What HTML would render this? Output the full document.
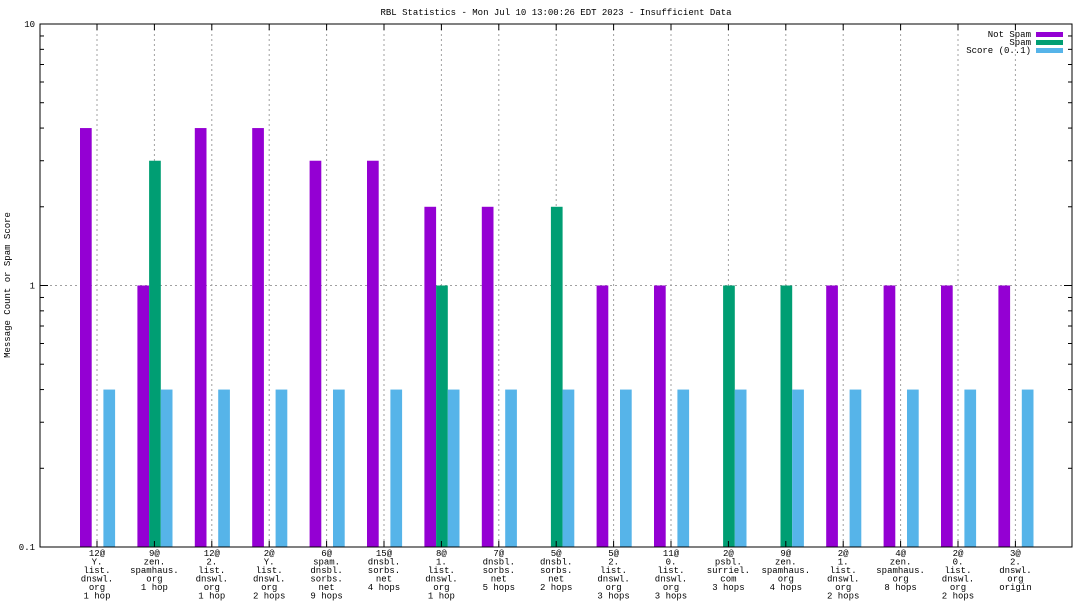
<!DOCTYPE html>
<html><head><meta charset="utf-8"><style>
body{margin:0;background:#fff}
svg{display:block;font-family:"Liberation Mono","DejaVu Sans Mono",monospace;font-size:9px}
</style></head><body>
<svg id="c" width="1088" height="612">
<text x="556" y="15" text-anchor="middle">RBL Statistics - Mon Jul 10 13:00:26 EDT 2023 - Insufficient Data</text>
<text transform="translate(10,285) rotate(-90)" text-anchor="middle">Message Count or Spam Score</text>
<g id="legend">
<text x="1031" y="37" text-anchor="end">Not Spam</text>
<rect x="1036" y="32" width="27" height="5" fill="#9400d3"/>
<text x="1031" y="45" text-anchor="end">Spam</text>
<rect x="1036" y="40" width="27" height="5" fill="#009e73"/>
<text x="1031" y="53" text-anchor="end">Score (0..1)</text>
<rect x="1036" y="48" width="27" height="5" fill="#56b4e9"/>
</g>
</svg>
<script>
const categories=[["12@","Y.","list.","dnswl.","org","1 hop"],["9@","zen.","spamhaus.","org","1 hop"],["12@","2.","list.","dnswl.","org","1 hop"],["2@","Y.","list.","dnswl.","org","2 hops"],["6@","spam.","dnsbl.","sorbs.","net","9 hops"],["15@","dnsbl.","sorbs.","net","4 hops"],["8@","1.","list.","dnswl.","org","1 hop"],["7@","dnsbl.","sorbs.","net","5 hops"],["5@","dnsbl.","sorbs.","net","2 hops"],["5@","2.","list.","dnswl.","org","3 hops"],["11@","0.","list.","dnswl.","org","3 hops"],["2@","psbl.","surriel.","com","3 hops"],["9@","zen.","spamhaus.","org","4 hops"],["2@","1.","list.","dnswl.","org","2 hops"],["4@","zen.","spamhaus.","org","8 hops"],["2@","0.","list.","dnswl.","org","2 hops"],["3@","2.","dnswl.","org","origin"]];
const notSpam=[4,1,4,4,3,3,2,2,0,1,1,0,0,1,1,1,1];
const spam=[0,3,0,0,0,0,1,0,2,0,0,1,1,0,0,0,0];
const score=[0.4,0.4,0.4,0.4,0.4,0.4,0.4,0.4,0.4,0.4,0.4,0.4,0.4,0.4,0.4,0.4,0.4];
const yTicks=[0.1,1,10];
const yTickLabels=["0.1","1","10"];

const svg=document.getElementById('c');
const NS='http://www.w3.org/2000/svg';
const L=40,R=1072,T=24,B=547;
const y=v=>B-(Math.log10(v)+1)*(B-T)/2;
const x=i=>97+i*((1015.4-97)/(categories.length-1));
function mk(t,a){const e=document.createElementNS(NS,t);for(const k in a)e.setAttribute(k,a[k]);svg.appendChild(e);return e;}
// grid
for(let i=0;i<categories.length;i++){
 const g=mk('line',{x1:x(i),x2:x(i),y1:T,y2:B,stroke:'#a0a0a0','stroke-dasharray':'2,3'});
 
 
}
const hg=mk('line',{x1:L,x2:R,y1:y(1),y2:y(1),stroke:'#a0a0a0','stroke-dasharray':'2,3'});


// bars
const bw=11.7;
function bar(i,v,off,col,name){
 if(v<=0)return;
 const r=mk('rect',{x:x(i)+off,y:y(v),width:bw,height:B-y(v),fill:col});
 
 
}
for(let i=0;i<categories.length;i++){
 bar(i,notSpam[i],-17,'#9400d3','bar-not-spam');
 bar(i,spam[i],-5.3,'#009e73','bar-spam');
 bar(i,score[i],6.4,'#56b4e9','bar-score');
}
// axes frame
const fr=mk('rect',{x:L,y:T,width:R-L,height:B-T,fill:'none',stroke:'#000'});


// y ticks
for(let d=0;d<2;d++){for(let m=2;m<10;m++){const v=Math.pow(10,d-1)*m;
 mk('line',{x1:L,x2:L+4,y1:y(v),y2:y(v),stroke:'#000'});
 mk('line',{x1:R,x2:R-4,y1:y(v),y2:y(v),stroke:'#000'});}}
yTicks.forEach((v,k)=>{
 mk('line',{x1:L,x2:L+8,y1:y(v),y2:y(v),stroke:'#000'});
 mk('line',{x1:R,x2:R-8,y1:y(v),y2:y(v),stroke:'#000'});
 const t=mk('text',{x:L-5,y:y(v)+3,'text-anchor':'end'});t.textContent=yTickLabels[k];
 
 
});
// x ticks & labels
categories.forEach((c,i)=>{
 mk('line',{x1:x(i),x2:x(i),y1:B,y2:B-6,stroke:'#000'});
 mk('line',{x1:x(i),x2:x(i),y1:T,y2:T+6,stroke:'#000'});
 const t=mk('text',{x:x(i),y:556,'text-anchor':'middle'});
 
 
 c.forEach((s,j)=>{const ts=document.createElementNS(NS,'tspan');ts.setAttribute('x',x(i));ts.setAttribute('y',556+j*8.5);ts.textContent=s;t.appendChild(ts);});
});
svg.appendChild(document.getElementById('legend'));
</script>
</body></html>
